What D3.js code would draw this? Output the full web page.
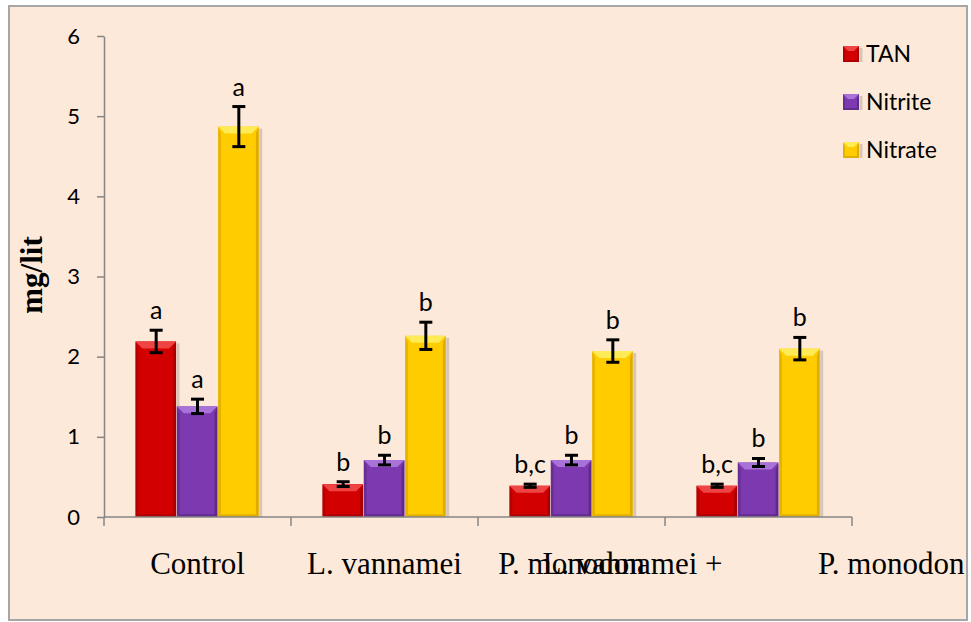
<!DOCTYPE html>
<html>
<head>
<meta charset="utf-8">
<script src="https://cdn.jsdelivr.net/npm/d3@7"></script>
<style>
  body { margin: 0; background: #fff; }
  svg { display: block; }
</style>
</head>
<body>
<script>
// data
var categories = ["Control", "L. vannamei", "P. monodon", "L. vannamei + P. monodon"];
var seriesNames = ["TAN", "Nitrite", "Nitrate"];
var tanMean = [2.19, 0.41, 0.39, 0.39];
var tanErr = [0.14, 0.03, 0.02, 0.02];
var nitriteMean = [1.38, 0.71, 0.71, 0.68];
var nitriteErr = [0.09, 0.06, 0.06, 0.05];
var nitrateMean = [4.87, 2.26, 2.07, 2.10];
var nitrateErr = [0.25, 0.17, 0.14, 0.14];
var tanLetters = ["a", "b", "b,c", "b,c"];
var nitriteLetters = ["a", "b", "b", "b"];
var nitrateLetters = ["a", "b", "b", "b"];
var yTicks = [0, 1, 2, 3, 4, 5, 6];

var width = 971, height = 622;

// colours: main, light top, dark edges
var colors = {
  TAN:     ["#D20000", "#EE4444", "#9E0000"],
  Nitrite: ["#7D3AB0", "#A872D8", "#582680"],
  Nitrate: ["#FFCC00", "#FFEB55", "#D6A200"]
};

var svg = d3.select("body").append("svg")
  .attr("width", width)
  .attr("height", height);

// chart area frame
svg.append("rect")
  .attr("x", 9).attr("y", 6)
  .attr("width", 958).attr("height", 614)
  .attr("fill", "#FDE9D9");

var y = d3.scaleLinear().domain([0, 6]).range([517, 36]);
var x0 = d3.scaleBand().domain(categories).range([104, 852]);
var x1 = d3.scaleBand().domain(seriesNames).range([31.5, x0.bandwidth() - 31.5]);

var rows = [];
categories.forEach(function(c, i) {
  rows.push({cat: c, s: "TAN", v: tanMean[i], e: tanErr[i], t: tanLetters[i]});
  rows.push({cat: c, s: "Nitrite", v: nitriteMean[i], e: nitriteErr[i], t: nitriteLetters[i]});
  rows.push({cat: c, s: "Nitrate", v: nitrateMean[i], e: nitrateErr[i], t: nitrateLetters[i]});
});

// bevelled box like the excel look
function bevelBox(g, xa, xb, ya, yb, col, b) {
  g.append("rect")
    .attr("x", xb + 0.5).attr("y", ya + 2)
    .attr("width", 3).attr("height", yb - ya - 2)
    .attr("fill", "rgba(0,0,0,0.15)");
  g.append("rect")
    .attr("x", xa).attr("y", ya)
    .attr("width", xb - xa).attr("height", yb - ya)
    .attr("fill", col[0]);
  var s = Math.max(2, b * 0.4);
  g.append("polygon")
    .attr("points", [[xa, ya], [xa + s, ya + b], [xa + s, yb - s], [xa, yb]].join(" "))
    .attr("fill", col[2]).attr("opacity", 0.6);
  g.append("polygon")
    .attr("points", [[xb, ya], [xb - s, ya + b], [xb - s, yb - s], [xb, yb]].join(" "))
    .attr("fill", col[2]).attr("opacity", 0.8);
  g.append("polygon")
    .attr("points", [[xa, yb], [xa + s, yb - s], [xb - s, yb - s], [xb, yb]].join(" "))
    .attr("fill", col[2]).attr("opacity", 0.7);
  g.append("polygon")
    .attr("points", [[xa, ya], [xb, ya], [xb - b, ya + b], [xa + b, ya + b]].join(" "))
    .attr("fill", col[1]);
}

var bars = svg.append("g");
rows.forEach(function(d) {
  var xa = x0(d.cat) + x1(d.s);
  bevelBox(bars, xa, xa + x1.bandwidth() - 0.8, y(d.v), y(0), colors[d.s], 7);
});

// error bars
var eb = svg.append("g").attr("stroke", "#000").attr("stroke-width", 3);
rows.forEach(function(d) {
  var cx = x0(d.cat) + x1(d.s) + x1.bandwidth() / 2;
  eb.append("line").attr("x1", cx).attr("x2", cx).attr("y1", y(d.v + d.e)).attr("y2", y(d.v - d.e));
  eb.append("line").attr("x1", cx - 6.5).attr("x2", cx + 6.5).attr("y1", y(d.v + d.e)).attr("y2", y(d.v + d.e));
  eb.append("line").attr("x1", cx - 6.5).attr("x2", cx + 6.5).attr("y1", y(d.v - d.e)).attr("y2", y(d.v - d.e));
});

// significance letters
svg.append("g").selectAll("text")
  .data(rows)
  .enter()
  .append("text")
  .attr("x", function(d) { return x0(d.cat) + x1(d.s) + x1.bandwidth() / 2; })
  .attr("y", function(d) { return y(d.v + d.e) - 11; })
  .attr("text-anchor", "middle")
  .style("font-family", "Lato, sans-serif")
  .style("font-size", "25px")
  .text(function(d) { return d.t; });

// y axis
var yAxis = svg.append("g")
  .attr("transform", "translate(104,0)")
  .call(d3.axisLeft(y).tickValues(yTicks).tickFormat(d3.format("d")).tickSize(7).tickPadding(17).tickSizeOuter(0));
yAxis.select(".domain").attr("stroke", "#868686").attr("stroke-width", 1.5);
yAxis.selectAll(".tick line").attr("stroke", "#868686").attr("stroke-width", 1.5);
yAxis.selectAll(".tick text")
  .style("font-family", "Lato, sans-serif")
  .style("font-size", "22px")
  .attr("fill", "#000");

// x axis line with ticks on category boundaries
var xa = svg.append("g").attr("stroke", "#868686").attr("stroke-width", 1.5);
xa.append("line").attr("x1", 104).attr("x2", x0.range()[1]).attr("y1", y(0)).attr("y2", y(0));
categories.concat([null]).forEach(function(c, i) {
  var xx = c === null ? x0.range()[1] : x0(c);
  xa.append("line").attr("x1", xx).attr("x2", xx).attr("y1", y(0)).attr("y2", y(0) + 9);
});

// category labels (last one breaks over the neighbour, as in the original)
var xl = svg.append("g")
  .style("font-family", "'Liberation Serif', 'Times New Roman', serif")
  .style("font-size", "31px")
  .attr("fill", "#000");
categories.forEach(function(c) {
  var cx = x0(c) + x0.bandwidth() / 2;
  if (c.indexOf(" + ") >= 0) {
    var parts = c.split(" + ");
    xl.append("text").attr("x", cx - 126).attr("y", 574).attr("text-anchor", "middle").text(parts[0] + " +");
    xl.append("text").attr("x", x0(c) + 153).attr("y", 574).attr("text-anchor", "start").text(parts[1]);
  } else {
    xl.append("text").attr("x", cx).attr("y", 574).attr("text-anchor", "middle").text(c);
  }
});

// y axis title
svg.append("text")
  .attr("transform", "translate(42,275) rotate(-90)")
  .attr("text-anchor", "middle")
  .style("font-family", "'Liberation Serif', 'Times New Roman', serif")
  .style("font-weight", "bold")
  .style("font-size", "31px")
  .text("mg/lit");

// legend
var legend = svg.append("g");
seriesNames.forEach(function(s, i) {
  var ly = 46 + i * 48;
  bevelBox(legend, 843, 859, ly, ly + 16, colors[s], 5);
  legend.append("text")
    .attr("x", 866).attr("y", ly + 16)
    .style("font-family", "Lato, sans-serif")
    .style("font-size", "23px")
    .text(s);
});

// border on top so the clipped label hides under it
svg.append("rect")
  .attr("x", 968).attr("y", 0).attr("width", 3).attr("height", height).attr("fill", "#fff");
svg.append("rect")
  .attr("x", 9).attr("y", 6)
  .attr("width", 958).attr("height", 614)
  .attr("fill", "none")
  .attr("stroke", "#A6A6A6")
  .attr("stroke-width", 2);
</script>
</body>
</html>
